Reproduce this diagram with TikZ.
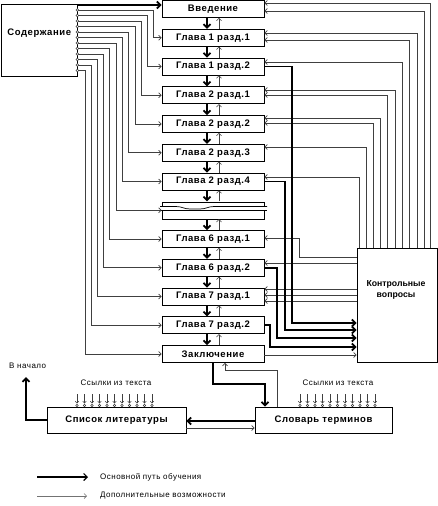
\documentclass[tikz,border=0pt]{standalone}
\usepackage{fontspec}
\setmainfont{Liberation Sans}
\newfontfamily\spacedfont[LetterSpace=6]{Liberation Sans}
\usetikzlibrary{arrows.meta}
\begin{document}
\begin{tikzpicture}[x=1pt,y=-1pt,
  box/.style={draw=black, line width=0.8pt, fill=white, minimum width=102pt, minimum height=17pt, inner sep=0pt, font=\spacedfont\bfseries\fontsize{9.5}{10}\selectfont},
  bigbox/.style={draw=black, line width=0.8pt, fill=white, inner sep=0pt, font=\bfseries\fontsize{9}{11}\selectfont, align=center},
  aux/.style={draw=black!75, line width=0.7pt},
  auxarr/.style={aux, -{Straight Barb[length=2.5pt,width=5pt]}},
  main/.style={draw=black, line width=1.8pt},
  mainarr/.style={main, -{Straight Barb[length=3.5pt,width=7pt]}},
  small/.style={font=\spacedfont\fontsize{8}{9}\selectfont, inner sep=0pt},
  ring/.style={draw=black!75, fill=white, line width=0.5pt}
]
\useasboundingbox (0,0) rectangle (438,506);

% chapter boxes
\node[box] (b0) at (213,9) {Введение};
\node[box] (b1) at (213,37.75) {Глава 1 разд.1};
\node[box] (b2) at (213,66.5) {Глава 1 разд.2};
\node[box] (b3) at (213,95.25) {Глава 2 разд.1};
\node[box] (b4) at (213,124) {Глава 2 разд.2};
\node[box] (b5) at (213,152.75) {Глава 2 разд.3};
\node[box] (b6) at (213,181.5) {Глава 2 разд.4};
\node[box, draw=none, fill=none] (b7) at (213,210.25) {};
\node[box] (b8) at (213,239) {Глава 6 разд.1};
\node[box] (b9) at (213,267.75) {Глава 6 разд.2};
\node[box] (b10) at (213,296.5) {Глава 7 разд.1};
\node[box] (b11) at (213,325.25) {Глава 7 разд.2};
\node[box] (b12) at (213,354) {Заключение};

% broken box
\draw[line width=0.8pt] (162,206.5) -- (162,202) -- (264,202) -- (264,206.5);
\draw[line width=0.8pt] (162,210.5) -- (162,219) -- (264,219) -- (264,210.5);
\draw[line width=0.7pt] (160,206.5) -- (176,206.5) .. controls (182,206.5) and (184,209) .. (190,209) -- (200,209) .. controls (206,209) and (208,206.5) .. (214,206.5) -- (267,206.5);
\draw[line width=0.7pt] (160,210.5) -- (267,210.5);

% contents box
\node[bigbox, minimum width=75.5pt, minimum height=72pt] (sod) at (39.25,40) {};
\node[font=\spacedfont\bfseries\fontsize{9.5}{11}\selectfont, inner sep=0pt] (sodt) at (39.25,33) {Содержание};
% control questions
\node[bigbox, minimum width=80pt, minimum height=114pt] (kv) at (397,305) {};
\node[font=\bfseries\fontsize{8.7}{11}\selectfont, align=center, inner sep=0pt] (kvt) at (396,290) {Контрольные\\вопросы};
% bottom boxes
\node[bigbox, font=\spacedfont\bfseries\fontsize{9.5}{11}\selectfont, minimum width=139pt, minimum height=26pt] (spis) at (116.5,420) {Список литературы};
\node[bigbox, font=\spacedfont\bfseries\fontsize{9.5}{11}\selectfont, minimum width=137pt, minimum height=26pt] (slov) at (323.5,420) {Словарь терминов};

% vertical arrows between chapter boxes
\foreach \a/\b in {b0/b1,b1/b2,b2/b3,b3/b4,b4/b5,b5/b6,b6/b7,b7/b8,b8/b9,b9/b10,b10/b11,b11/b12}{
  \draw[mainarr] ([xshift=-6pt]\a.south) -- ([xshift=-6pt]\b.north);
  \draw[auxarr, line width=0.5pt] ([xshift=6pt]\b.north) -- ([xshift=6pt]\a.south);
}

% main line contents -> introduction
\draw[mainarr] (sod.north east |- 0,5) -- (b0.west |- 0,5);
% contents -> each chapter
\foreach \i/\s/\xv in {1/10/153, 2/15.5/147, 3/21/141, 4/26.5/135, 5/32/128, 6/37.5/122, 7/43/116, 8/48.5/109, 9/54/103, 10/59.5/97, 11/65/91, 12/70.5/85}{
  \draw[auxarr] (sod.east |- 0,\s) -| (\xv,0 |- b\i.west) -- (b\i.west);
  \draw[ring] (sod.east |- 0,\s) circle (1.3pt);
}

% control questions -> chapters (top)
\foreach \i/\yl/\xv in {0/3/430, 0/11/424, 1/33/417, 1/40/409, 2/62/402, 3/90/395, 3/95/387, 4/118/380, 4/123/373, 5/147/366, 6/177/359}{
  \draw[auxarr] (kv.north -| \xv,0) |- (b\i.east |- 0,\yl);
}
% control questions -> chapters (left side)
\draw[auxarr] (kv.west |- 0,257) -| (299,238) -- (b8.east |- 0,238);
\draw[auxarr] (kv.west |- 0,263) -- (b9.east |- 0,263);
\foreach \yl in {289,295,301}{
  \draw[auxarr] (kv.west |- 0,\yl) -- (b10.east |- 0,\yl);
}
% chapters -> control questions (main)
\draw[mainarr] (b2.east) -| (292,323) -- (kv.west |- 0,323);
\draw[mainarr] (b6.east) -| (285,330) -- (kv.west |- 0,330);
\draw[mainarr] (b9.east) -| (277,338) -- (kv.west |- 0,338);
\draw[mainarr] (b11.east) -| (270,347) -- (kv.west |- 0,347);
\draw[auxarr] (b12.east |- 0,355) -- (kv.west |- 0,355);

% conclusion <-> glossary
\draw[mainarr] (b12.south) |- (265,384) -- (265,0 |- slov.north);
\draw[auxarr] (277,0 |- slov.north) |- (225,370) -- (225,0 |- b12.south);

% glossary <-> literature
\draw[mainarr] (slov.west |- 0,421) -- (spis.east |- 0,421);
\draw[auxarr] (spis.east |- 0,428) -- (slov.west |- 0,428);

% back to start
\coordinate (start) at (26,377);
\draw[mainarr] (spis.west |- 0,420) -| (start);
\node[small, anchor=west] (tstart) at (9,366) {В начало};

% references from text
\node[small] (refl) at (116,383) {Ссылки из текста};
\node[small] (refr) at (338,383) {Ссылки из текста};
\foreach \k in {0,...,10}{
  \draw[auxarr, line width=0.5pt, -{Straight Barb[length=2pt,width=3.5pt]}] ({77+7.5*\k},394) -- ({77+7.5*\k},403.5);
  \draw[ring] ({77+7.5*\k},405.5) circle (1.3pt);
  \draw[auxarr, line width=0.5pt, -{Straight Barb[length=2pt,width=3.5pt]}] ({300+7.5*\k},394) -- ({300+7.5*\k},403.5);
  \draw[ring] ({300+7.5*\k},405.5) circle (1.3pt);
}

% legend
\coordinate (l1a) at (37,477);
\coordinate (l1b) at (88,477);
\coordinate (l2a) at (37,496);
\coordinate (l2b) at (87,496);
\draw[mainarr, line width=1.2pt] (l1a) -- (l1b);
\draw[auxarr, draw=black!55] (l2a) -- (l2b);
\node[small, anchor=west] (leg1) at (100,477) {Основной путь обучения};
\node[small, anchor=west] (leg2) at (100,496) {Дополнительные возможности};
\end{tikzpicture}
\end{document}
